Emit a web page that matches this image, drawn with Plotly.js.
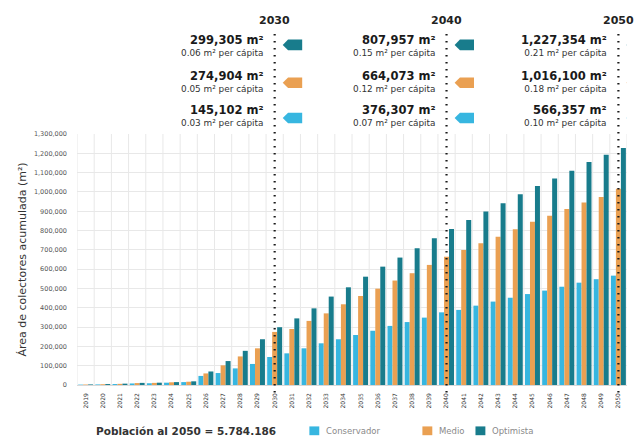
<!DOCTYPE html>
<html><head><meta charset="utf-8">
<script src="https://cdn.plot.ly/plotly-3.0.1.min.js"></script>
<style>html,body{margin:0;padding:0;background:#fff}#chart{width:642px;height:438px}</style>
</head><body><div id="chart"></div>
<script>
const years = [2019,2020,2021,2022,2023,2024,2025,2026,2027,2028,2029,2030,2031,2032,2033,2034,2035,2036,2037,2038,2039,2040,2041,2042,2043,2044,2045,2046,2047,2048,2049,2050];
const conservador = [2000,3000,5000,8000,9000,12000,15000,47000,62000,86000,109000,145102,164000,190000,216000,237000,259000,281000,306000,326000,349000,376307,389000,411000,432000,452000,471000,489000,509000,530000,548000,566357];
const medio = [2500,4000,6000,10000,11000,14000,17000,60000,102000,148000,190000,274904,290000,332000,371000,418000,461000,499000,541000,579000,622000,664073,699000,734000,768000,807000,846000,876000,912000,945000,974000,1016100];
const optimista = [3000,5000,7000,11000,12000,15000,19000,70000,124000,177000,237000,299305,345000,397000,458000,506000,561000,613000,660000,708000,760000,807957,855000,898000,941000,988000,1031000,1069000,1110000,1155000,1192000,1227354];

const seriesNames = ['Conservador','Medio','Optimista'];
const milestoneYears = [2030, 2040, 2050];
const hitoOptimista = ['299,305 m²','807,957 m²','1,227,354 m²'];
const hitoOptimistaPC = ['0.06 m² per cápita','0.15 m² per cápita','0.21 m² per cápita'];
const hitoMedio = ['274,904 m²','664,073 m²','1,016,100 m²'];
const hitoMedioPC = ['0.05 m² per cápita','0.12 m² per cápita','0.18 m² per cápita'];
const hitoConservador = ['145,102 m²','376,307 m²','566,357 m²'];
const hitoConservadorPC = ['0.03 m² per cápita','0.07 m² per cápita','0.10 m² per cápita'];
const poblacionTexto = 'Población al 2050 = 5.784.186';
const yTitle = 'Área de colectores acumulada (m²)';

const cCons = '#37b6e0', cMed = '#eaa052', cOpt = '#187c8c';
const colors = [cCons, cMed, cOpt];
const FONT = 'DejaVu Sans, sans-serif';

const traces = [
  {type:'bar', name:seriesNames[0], x:years, y:conservador, marker:{color:cCons}},
  {type:'bar', name:seriesNames[1], x:years, y:medio, marker:{color:cMed}},
  {type:'bar', name:seriesNames[2], x:years, y:optimista, marker:{color:cOpt}}
];

const shapes = [];
for (let i = 0; i <= years.length; i++) {
  const xv = years[0] - 0.5 + i;
  shapes.push({type:'line', xref:'x', yref:'paper', x0:xv, x1:xv, y0:0, y1:1, line:{color:'#e8e8e8', width:1}, layer:'below'});
}
const annotations = [];
const rows = [
  {v:hitoOptimista, pc:hitoOptimistaPC, col:cOpt, yt:1.352, ya:1.355},
  {v:hitoMedio, pc:hitoMedioPC, col:cMed, yt:1.209, ya:1.204},
  {v:hitoConservador, pc:hitoConservadorPC, col:cCons, yt:1.074, ya:1.064}
];
milestoneYears.forEach((yr, k) => {
  shapes.push({type:'line', xref:'x', yref:'paper', x0:yr, x1:yr, y0:-0.03, y1:1.406,
    line:{color:'#1a1a1a', width:2.2, dash:'1.5px,5.5px'}, layer:'above'});
  annotations.push({xref:'x', yref:'paper', x:yr, y:1.454, text:'<b>'+yr+'</b>', showarrow:false,
    xanchor:'center', yanchor:'middle', font:{family:FONT, size:11, color:'#222'}});
  rows.forEach(r => {
    annotations.push({xref:'x', yref:'paper', x:yr, xshift:-9, y:r.yt,
      text:'<span style="font-size:11.5px;font-weight:bold;fill:#1a1a1a">'+r.v[k]+'</span><br>'+r.pc[k],
      showarrow:false, align:'right',
      xanchor:'right', yanchor:'middle', font:{family:FONT, size:8.9, color:'#333'}});
    const h = 0.021;
    const a = yr + 0.47, b = yr + 0.78, c = yr + 1.6;
    shapes.push({type:'path', xref:'x', yref:'paper',
      path:`M${a},${r.ya} L${b},${r.ya+h} L${c},${r.ya+h} L${c},${r.ya-h} L${b},${r.ya-h} Z`,
      fillcolor:r.col, line:{width:0}});
  });
});
annotations.push({xref:'paper', yref:'paper', x:0.198, y:-0.183, text:'<b>'+poblacionTexto+'</b>', showarrow:false,
  xanchor:'center', yanchor:'middle', font:{family:FONT, size:10.5, color:'#333'}});

const legX = [0.4225, 0.628, 0.7245];
seriesNames.forEach((nm, i) => {
  shapes.push({type:'rect', xref:'paper', yref:'paper', x0:legX[i], x1:legX[i]+0.018, y0:-0.2, y1:-0.165,
    fillcolor:colors[i], line:{width:0}});
  annotations.push({xref:'paper', yref:'paper', x:legX[i]+0.026, y:-0.183, text:nm, showarrow:false,
    xanchor:'left', yanchor:'middle', font:{family:FONT, size:8.5, color:'#8a8a8a'}});
});

const layout = {
  width:642, height:438,
  margin:{l:77, r:15, t:134, b:53},
  paper_bgcolor:'#fff', plot_bgcolor:'#fff',
  barmode:'group', bargap:0.13, bargroupgap:0,
  showlegend:false,
  xaxis:{range:[years[0]-0.5, years[years.length-1]+0.5], tickmode:'linear', tick0:years[0], dtick:1,
    tickangle:-90, tickfont:{family:FONT, size:6, color:'#333'}, showgrid:false, zeroline:false,
    showline:false, ticks:'', ticklabelstandoff:6, fixedrange:true, automargin:false},
  yaxis:{range:[0,1300000], tickmode:'linear', tick0:0, dtick:100000, tickformat:',d',
    tickfont:{family:FONT, size:6.5, color:'#555'}, gridcolor:'#e8e8e8', gridwidth:1,
    zeroline:true, zerolinecolor:'#d8d8d8', showline:false, ticks:'', ticklabelstandoff:9, automargin:false,
    title:{text:yTitle, font:{family:FONT, size:11, color:'#333'}, standoff:5}},
  shapes:shapes, annotations:annotations,
  font:{family:FONT}
};
Plotly.newPlot('chart', traces, layout, {displayModeBar:false, staticPlot:true});
</script></body></html>
